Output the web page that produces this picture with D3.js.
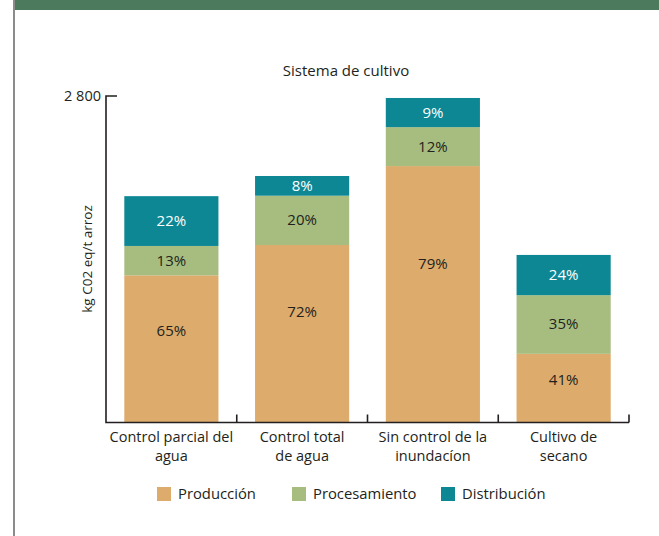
<!DOCTYPE html>
<html>
<head>
<meta charset="utf-8">
<script src="https://cdn.jsdelivr.net/npm/d3@7"></script>
<style>
  html, body { margin: 0; padding: 0; background: #fff; }
  svg { display: block; font-family: 'Open Sans', sans-serif; }
</style>
</head>
<body>
<svg id="chart" width="659" height="536"></svg>
<script>
// sistemas de cultivo
var categorias = [
  ['Control parcial del', 'agua'],
  ['Control total', 'de agua'],
  ['Sin control de la', 'inundacíon'],
  ['Cultivo de', 'secano']
];
// kg CO2 eq/t arroz
var produccion   = [1262, 1522, 2199, 589];
var procesamiento = [252, 423, 334, 503];
var distribucion = [427, 169, 250, 345];
var porcentajes = [
  ['65%', '13%', '22%'],
  ['72%', '20%', '8%'],
  ['79%', '12%', '9%'],
  ['41%', '35%', '24%']
];
var series = ['Producción', 'Procesamiento', 'Distribución'];
var colores = ['#ddab6b', '#a6bd7f', '#0e8795'];
var yMax = 2800;

var svg = d3.select('#chart');

// banda verde y borde izquierdo
svg.append('rect').attr('x', 13).attr('y', 0).attr('width', 646).attr('height', 10).attr('fill', '#4b7a5d');
svg.append('rect').attr('x', 13).attr('y', 0).attr('width', 2).attr('height', 536).attr('fill', '#8c8c8c');

var x0 = 106, x1 = 629, yBase = 422.5, yTop = 96;

var x = d3.scaleBand()
  .domain(d3.range(categorias.length))
  .range([x0, x1])
  .paddingInner(0.28)
  .paddingOuter(0.14);

var y = d3.scaleLinear().domain([0, yMax]).range([yBase, yTop]);

var datos = categorias.map(function (c, i) {
  return { i: i, Producción: produccion[i], Procesamiento: procesamiento[i], Distribución: distribucion[i] };
});
var stack = d3.stack().keys(series)(datos);

var g = svg.append('g');
stack.forEach(function (capa, k) {
  g.selectAll('rect.s' + k)
    .data(capa)
    .enter()
    .append('rect')
    .attr('x', function (d, i) { return x(i); })
    .attr('y', function (d) { return y(d[1]); })
    .attr('width', x.bandwidth())
    .attr('height', function (d) { return y(d[0]) - y(d[1]); })
    .attr('fill', colores[k]);

  g.selectAll('text.s' + k)
    .data(capa)
    .enter()
    .append('text')
    .attr('x', function (d, i) { return x(i) + x.bandwidth() / 2; })
    .attr('y', function (d) {
      // la etiqueta de produccion va algo por encima del centro
      var f = k == 0 ? 0.38 : 0.5;
      return y(d[1]) + (y(d[0]) - y(d[1])) * f + 5;
    })
    .attr('text-anchor', 'middle')
    .attr('font-size', 15)
    .attr('fill', k == 2 ? '#ffffff' : '#231f20')
    .text(function (d, i) { return porcentajes[i][k]; });
});

// ejes
var ejes = svg.append('g').attr('stroke', '#231f20').attr('stroke-width', 1.6).attr('fill', 'none');
ejes.append('path').attr('d', 'M' + (x0 + 11) + ',' + yTop + 'H' + x0 + 'V' + yBase + 'H' + x1);
var cortes = d3.range(1, categorias.length + 1).map(function (i) {
  return x0 + (x1 - x0) * i / categorias.length;
});
cortes.forEach(function (c) {
  ejes.append('path').attr('d', 'M' + c + ',' + yBase + 'V' + (yBase - 8));
});

svg.append('text')
  .attr('x', 101).attr('y', yTop + 5)
  .attr('text-anchor', 'end')
  .attr('font-size', 14.5)
  .attr('fill', '#231f20')
  .text('2 800');

svg.append('text')
  .attr('transform', 'translate(92,259) rotate(-90)')
  .attr('text-anchor', 'middle')
  .attr('font-size', 13.5)
  .attr('fill', '#231f20')
  .text('kg C02 eq/t arroz');

svg.append('text')
  .attr('x', 346).attr('y', 76)
  .attr('text-anchor', 'middle')
  .attr('font-size', 15)
  .attr('fill', '#231f20')
  .text('Sistema de cultivo');

// etiquetas de categoria
categorias.forEach(function (c, i) {
  c.forEach(function (linea, j) {
    svg.append('text')
      .attr('text-anchor', 'middle')
      .attr('font-size', 14.5)
      .attr('fill', '#231f20')
      .attr('x', x(i) + x.bandwidth() / 2)
      .attr('y', 442 + j * 19)
      .text(linea);
  });
});

// leyenda
var leyX = [157, 292, 441];
series.forEach(function (s, k) {
  svg.append('rect')
    .attr('x', leyX[k]).attr('y', 487)
    .attr('width', 14).attr('height', 14)
    .attr('fill', colores[k]);
  svg.append('text')
    .attr('x', leyX[k] + 21).attr('y', 499)
    .attr('font-size', 14.8)
    .attr('fill', '#231f20')
    .text(s);
});
</script>
</body>
</html>
